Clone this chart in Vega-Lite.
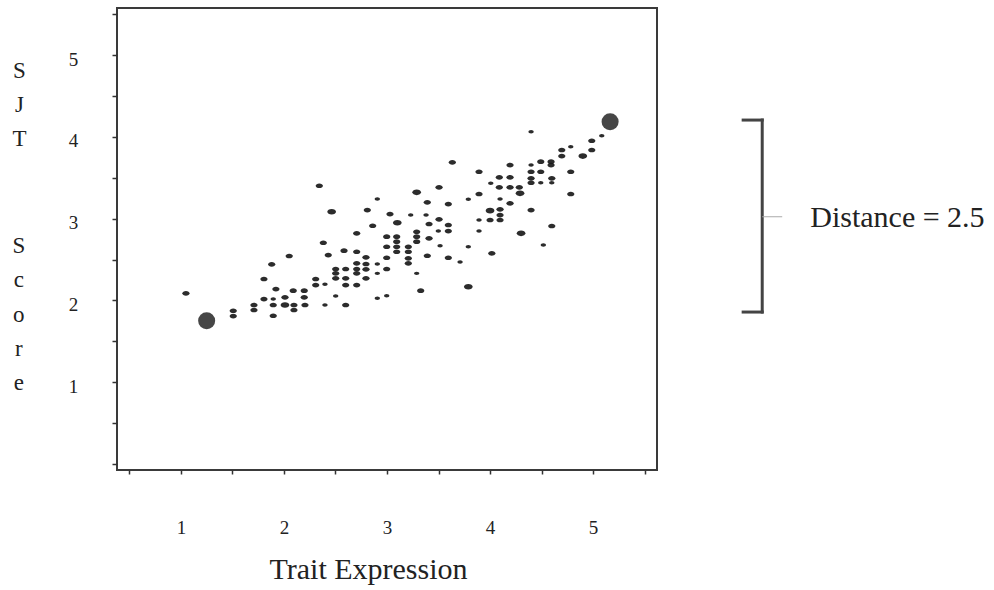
{
  "$schema": "https://vega.github.io/schema/vega-lite/v6.json",
  "width": 540,
  "height": 462,
  "autosize": {"type": "none"},
  "padding": {"left": 117, "top": 8, "right": 337, "bottom": 120},
  "background": "white",
  "config": {
    "view": {"stroke": "#3a3a3a", "strokeWidth": 2},
    "font": "Liberation Serif",
    "text": {"font": "Liberation Serif"}
  },
  "datasets": {
    "points": [
      {"x":1.049,"y":2.087,"n":2},{"x":1.508,"y":1.874,"n":2},{"x":1.508,"y":1.809,"n":2},{"x":1.709,"y":1.944,"n":2},{"x":1.709,"y":1.883,"n":2},{"x":1.806,"y":2.262,"n":2},{"x":1.806,"y":2.017,"n":2},{"x":1.881,"y":2.441,"n":2},{"x":1.896,"y":2.017,"n":1},{"x":1.896,"y":1.944,"n":2},{"x":1.896,"y":1.813,"n":2},{"x":1.922,"y":2.139,"n":2},{"x":2.010,"y":2.038,"n":2},{"x":2.010,"y":1.944,"n":3},{"x":2.051,"y":2.543,"n":2},{"x":2.090,"y":2.119,"n":2},{"x":2.097,"y":1.944,"n":2},{"x":2.097,"y":1.883,"n":2},{"x":2.197,"y":2.119,"n":2},{"x":2.197,"y":2.038,"n":2},{"x":2.204,"y":1.944,"n":2},{"x":2.308,"y":2.262,"n":2},{"x":2.308,"y":2.188,"n":2},{"x":2.382,"y":2.705,"n":2},{"x":2.398,"y":2.197,"n":1},{"x":2.398,"y":1.944,"n":1},{"x":2.430,"y":2.555,"n":2},
      {"x":2.343,"y":3.402,"n":2},{"x":2.906,"y":3.240,"n":1},{"x":3.288,"y":3.322,"n":3},{"x":2.463,"y":3.084,"n":3},{"x":2.809,"y":3.105,"n":2},{"x":3.029,"y":3.056,"n":2},{"x":3.230,"y":3.044,"n":1},{"x":3.100,"y":2.950,"n":3},{"x":2.861,"y":2.913,"n":2},{"x":2.706,"y":2.820,"n":2},{"x":2.997,"y":2.779,"n":2},{"x":3.094,"y":2.779,"n":2},{"x":3.288,"y":2.840,"n":2},{"x":3.288,"y":2.779,"n":2},{"x":3.288,"y":2.718,"n":2},{"x":3.094,"y":2.718,"n":2},{"x":2.997,"y":2.656,"n":2},{"x":3.094,"y":2.656,"n":2},{"x":3.207,"y":2.656,"n":2},{"x":3.094,"y":2.595,"n":2},{"x":3.207,"y":2.595,"n":2},{"x":2.583,"y":2.608,"n":2},{"x":2.706,"y":2.595,"n":2},{"x":2.796,"y":2.527,"n":2},{"x":2.997,"y":2.522,"n":2},{"x":3.207,"y":2.515,"n":2},{"x":3.207,"y":2.454,"n":2},{"x":2.796,"y":2.445,"n":2},{"x":2.706,"y":2.454,"n":2},{"x":2.906,"y":2.445,"n":1},{"x":2.502,"y":2.384,"n":2},{"x":2.599,"y":2.384,"n":2},{"x":2.706,"y":2.384,"n":2},{"x":2.796,"y":2.380,"n":2},{"x":2.997,"y":2.384,"n":2},{"x":2.502,"y":2.331,"n":2},{"x":2.706,"y":2.331,"n":2},{"x":2.906,"y":2.331,"n":1},{"x":3.288,"y":2.331,"n":1},{"x":2.502,"y":2.270,"n":2},{"x":2.599,"y":2.270,"n":2},{"x":2.796,"y":2.270,"n":2},{"x":2.599,"y":2.188,"n":2},{"x":2.706,"y":2.188,"n":2},{"x":2.502,"y":2.054,"n":1},{"x":2.906,"y":2.026,"n":1},{"x":2.997,"y":2.057,"n":1},{"x":2.599,"y":1.944,"n":2},
      {"x":3.634,"y":3.688,"n":2},{"x":4.194,"y":3.655,"n":2},{"x":3.893,"y":3.573,"n":2},{"x":4.090,"y":3.505,"n":2},{"x":4.194,"y":3.505,"n":2},{"x":4.007,"y":3.432,"n":1},{"x":4.090,"y":3.383,"n":2},{"x":4.194,"y":3.383,"n":2},{"x":4.284,"y":3.383,"n":2},{"x":4.291,"y":3.309,"n":3},{"x":3.505,"y":3.383,"n":2},{"x":3.893,"y":3.301,"n":2},{"x":3.789,"y":3.236,"n":1},{"x":4.097,"y":3.240,"n":1},{"x":3.391,"y":3.199,"n":2},{"x":3.595,"y":3.178,"n":2},{"x":4.194,"y":3.187,"n":2},{"x":4.000,"y":3.097,"n":3},{"x":4.097,"y":3.114,"n":2},{"x":4.097,"y":3.044,"n":2},{"x":4.097,"y":2.983,"n":2},{"x":3.379,"y":3.044,"n":1},{"x":3.893,"y":2.983,"n":1},{"x":4.000,"y":2.983,"n":2},{"x":3.505,"y":2.991,"n":2},{"x":3.408,"y":2.934,"n":2},{"x":3.595,"y":2.922,"n":2},{"x":3.595,"y":2.848,"n":2},{"x":3.498,"y":2.848,"n":1},{"x":3.893,"y":2.848,"n":1},{"x":3.408,"y":2.759,"n":2},{"x":3.515,"y":2.669,"n":1},{"x":3.789,"y":2.656,"n":1},{"x":3.391,"y":2.546,"n":2},{"x":3.595,"y":2.522,"n":2},{"x":4.017,"y":2.576,"n":2},{"x":3.709,"y":2.469,"n":1},{"x":3.327,"y":2.119,"n":2},{"x":3.789,"y":2.167,"n":3},{"x":4.301,"y":2.820,"n":3},
      {"x":4.398,"y":4.062,"n":1},{"x":5.084,"y":4.013,"n":1},{"x":4.987,"y":3.952,"n":2},{"x":4.783,"y":3.879,"n":1},{"x":4.987,"y":3.839,"n":2},{"x":4.696,"y":3.839,"n":2},{"x":4.696,"y":3.765,"n":2},{"x":4.900,"y":3.765,"n":3},{"x":4.592,"y":3.696,"n":2},{"x":4.592,"y":3.655,"n":2},{"x":4.492,"y":3.696,"n":2},{"x":4.398,"y":3.655,"n":1},{"x":4.398,"y":3.573,"n":2},{"x":4.492,"y":3.573,"n":2},{"x":4.783,"y":3.573,"n":2},{"x":4.398,"y":3.493,"n":2},{"x":4.599,"y":3.493,"n":2},{"x":4.398,"y":3.439,"n":2},{"x":4.492,"y":3.439,"n":1},{"x":4.599,"y":3.439,"n":1},{"x":4.783,"y":3.301,"n":2},{"x":4.398,"y":3.105,"n":2},{"x":4.599,"y":2.910,"n":2},{"x":4.517,"y":2.677,"n":1}
    ],
    "ends": [
      {"x":1.25,"y":1.752},
      {"x":5.165,"y":4.185}
    ]
  },
  "layer": [
    {
      "data": {"name": "points"},
      "mark": {
        "type": "point",
        "filled": true,
        "shape": "M -1 0 A 1 0.65 0 1 0 1 0 A 1 0.65 0 1 0 -1 0 Z",
        "color": "#1a1a1a",
        "opacity": 0.92,
        "strokeWidth": 0
      },
      "encoding": {
        "x": {
          "field": "x",
          "type": "quantitative",
          "scale": {"domain": [0.38, 5.62], "nice": false, "zero": false},
          "axis": {
            "values": [0.5,1,1.5,2,2.5,3,3.5,4,4.5,5,5.5],
            "labelExpr": "datum.value % 1 === 0 ? format(datum.value, 'd') : ''",
            "grid": false,
            "domain": false,
            "tickColor": "#333",
            "tickSize": 4,
            "tickWidth": 1.5,
            "labelFont": "Liberation Serif",
            "labelFontSize": 19,
            "labelColor": "#222",
            "labelPadding": 44,
            "labelOverlap": false,
            "labelFlush": false,
            "title": "Trait Expression",
            "titleFont": "Liberation Serif",
            "titleFontSize": 30,
            "titleFontWeight": "normal",
            "titleColor": "#222",
            "titleX": 251,
            "titleY": 108,
            "titleAlign": "center",
            "titleBaseline": "alphabetic"
          }
        },
        "y": {
          "field": "y",
          "type": "quantitative",
          "scale": {"domain": [-0.073, 5.575], "nice": false, "zero": false},
          "axis": {
            "values": [0,0.5,1,1.5,2,2.5,3,3.5,4,4.5,5,5.5],
            "labelExpr": "datum.value % 1 === 0 && datum.value > 0 ? format(datum.value, 'd') : ''",
            "grid": false,
            "domain": false,
            "tickColor": "#333",
            "tickSize": 5,
            "tickWidth": 1.5,
            "labelFont": "Liberation Serif",
            "labelFontSize": 19,
            "labelColor": "#222",
            "labelAlign": "center",
            "labelBaseline": "middle",
            "labelPadding": 39,
            "labelOffset": 4,
            "labelOverlap": false,
            "labelFlush": false,
            "title": ["S","J","T"],
            "titleFont": "Liberation Serif",
            "titleFontSize": 23,
            "titleFontWeight": "normal",
            "titleColor": "#222",
            "titleAngle": 0,
            "titleX": -98,
            "titleY": 69,
            "titleAlign": "center",
            "titleBaseline": "alphabetic",
            "titleLineHeight": 34.3
          }
        },
        "size": {
          "field": "n",
          "type": "quantitative",
          "scale": {"domain": [1, 3], "range": [28, 76]},
          "legend": null
        }
      }
    },
    {
      "data": {"name": "ends"},
      "mark": {"type": "point", "filled": true, "shape": "circle", "size": 290, "color": "#464646", "opacity": 1, "strokeWidth": 0},
      "encoding": {
        "x": {"field": "x", "type": "quantitative"},
        "y": {"field": "y", "type": "quantitative"}
      }
    },
    {
      "data": {"values": [{}]},
      "mark": {"type": "text", "align": "center", "baseline": "alphabetic", "font": "Liberation Serif", "fontSize": 23, "lineHeight": 34.3, "color": "#222"},
      "encoding": {
        "x": {"datum": -0.573, "type": "quantitative"},
        "y": {"datum": 2.579, "type": "quantitative"},
        "text": {"value": ["S","c","o","r","e"]}
      }
    },
    {
      "data": {"values": [{}]},
      "mark": {"type": "rule", "color": "#444", "strokeWidth": 3, "strokeCap": "square"},
      "encoding": {
        "x": {"datum": 6.641, "type": "quantitative"},
        "y": {"datum": 4.205, "type": "quantitative"},
        "y2": {"datum": 1.858}
      }
    },
    {
      "data": {"values": [{}]},
      "mark": {"type": "rule", "color": "#444", "strokeWidth": 3, "strokeCap": "square"},
      "encoding": {
        "x": {"datum": 6.456, "type": "quantitative"},
        "x2": {"datum": 6.641},
        "y": {"datum": 4.205, "type": "quantitative"}
      }
    },
    {
      "data": {"values": [{}]},
      "mark": {"type": "rule", "color": "#444", "strokeWidth": 3, "strokeCap": "square"},
      "encoding": {
        "x": {"datum": 6.456, "type": "quantitative"},
        "x2": {"datum": 6.641},
        "y": {"datum": 1.858, "type": "quantitative"}
      }
    },
    {
      "data": {"values": [{}]},
      "mark": {"type": "rule", "color": "#aaa", "strokeWidth": 1},
      "encoding": {
        "x": {"datum": 6.641, "type": "quantitative"},
        "x2": {"datum": 6.835},
        "y": {"datum": 3.023, "type": "quantitative"}
      }
    },
    {
      "data": {"values": [{}]},
      "mark": {"type": "text", "align": "left", "baseline": "alphabetic", "font": "Liberation Serif", "fontSize": 30, "color": "#222"},
      "encoding": {
        "x": {"datum": 7.107, "type": "quantitative"},
        "y": {"datum": 2.897, "type": "quantitative"},
        "text": {"value": "Distance = 2.5"}
      }
    }
  ]
}
